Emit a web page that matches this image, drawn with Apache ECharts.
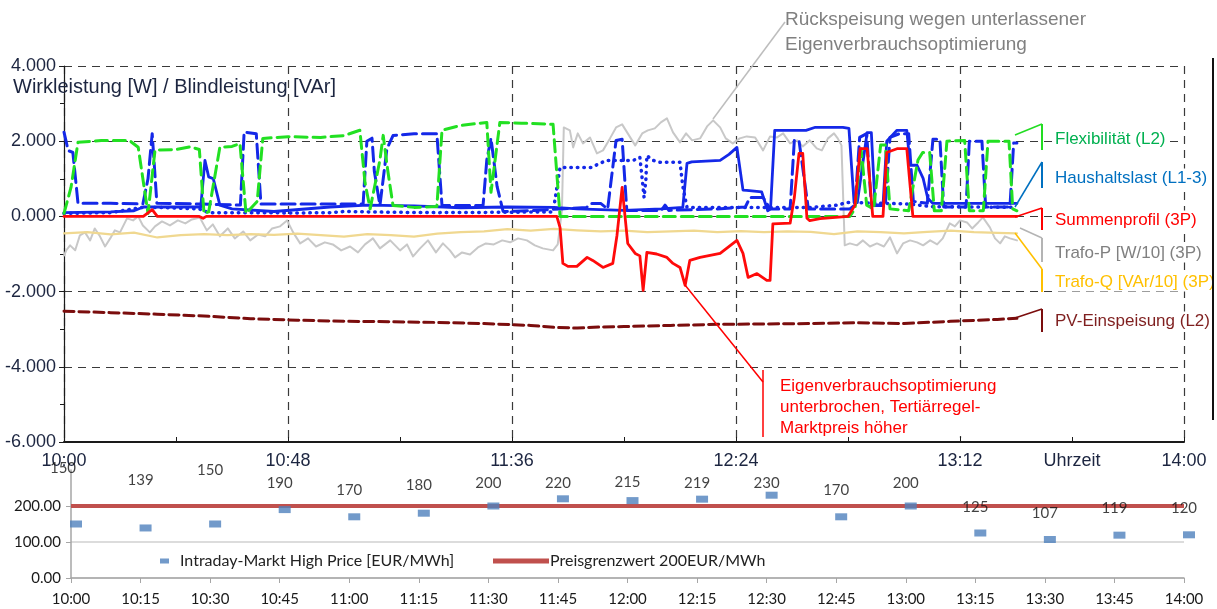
<!DOCTYPE html>
<html>
<head>
<meta charset="utf-8">
<title>Wirkleistung / Blindleistung</title>
<script src="https://cdn.jsdelivr.net/npm/echarts@6/dist/echarts.min.js"></script>
<style>
  html, body { margin: 0; padding: 0; background: #fff; }
  #chart { width: 1217px; height: 609px; }
</style>
</head>
<body>
<div id="chart"></div>
<script>
// upper chart: [minutes after 10:00, W or VAr]
const flexL2 = [[0,80],[1.5,770],[3,1970],[8,2020],[14,2020],[15.9,1840],[18,80],[19.5,1760],[24,1780],[27,1850],[29,1780],[30,80],[31,120],[33.4,1840],[36,1860],[37.7,1940],[39,80],[41.4,400],[42.6,2075],[48,2120],[55,2100],[60,2150],[63.4,2290],[64.5,900],[65.6,200],[67.7,1500],[68.4,2155],[69.4,1200],[70.5,290],[75,240],[79.9,260],[81,2290],[85,2420],[90.6,2500],[91.5,640],[93.4,2500],[98,2480],[104.8,2450],[106.3,0],[168.4,0],[169.5,200],[170.8,1800],[172,300],[173.5,200],[175,1900],[176,1900],[177,200],[181,150],[183,1500],[184,1700],[185.5,1700],[186.5,150],[188,150],[189.2,2000],[193,2020],[194,150],[197,150],[198,2000],[202.5,2000],[203.3,200],[204.2,150]];

const houseL1 = [[0,100],[10,120],[15,150],[17,250],[20,250],[29.3,250],[30.2,1490],[31,1050],[32,1000],[33.4,300],[36,200],[45,130],[57,250],[65,300],[75,280],[85,230],[95,250],[105,240],[110,200],[120,160],[128,200],[132.6,240],[133.5,1410],[134.5,1450],[140.6,1490],[142.5,1650],[144.2,1835],[145.5,700],[146.3,690],[149.5,650],[150.8,150],[151.4,200],[152.3,2290],[159,2290],[161,2370],[166.9,2370],[168.2,2340],[169.3,370],[170,370],[172.1,2230],[173,2230],[173.8,290],[175.5,290],[176.3,2000],[178.5,2290],[180.6,2290],[181.3,1360],[182.8,1360],[184.1,1010],[185.1,480],[186.2,346],[204.2,346]];

const houseL2 = [[0,2240],[0.9,1750],[1.9,1700],[3,350],[10,350],[16.9,330],[18,1000],[18.9,2200],[19.9,350],[29,330],[37.8,300],[38.6,2240],[41.2,2200],[42.2,330],[64.1,330],[64.9,2000],[66,2080],[66.5,1200],[67.7,290],[69.2,1800],[70.5,2150],[75,2200],[79.9,2200],[81,290],[89.8,290],[90.6,1500],[91.5,2080],[92.8,800],[94.1,130],[100,150],[106.3,200],[112,240],[113,346],[115,346],[116.5,200],[118.3,2020],[119.6,2050],[120.6,160],[128,160],[128.8,300],[129.6,160],[140,200],[146,250],[147,505],[149.8,505],[151.3,200],[155.6,200],[156.5,2020],[157.5,2020],[159.5,200],[168.4,200],[169.5,300],[170.5,2100],[172,2200],[173,300],[176,300],[177,2100],[179,2200],[181,2200],[182,400],[185,350],[186.2,2050],[187.7,2050],[188.5,250],[193.3,250],[194,2000],[196.7,2000],[197.5,250],[202.7,250],[203.5,1950],[204.2,1950]];

const houseL3 = [[0,80],[10,100],[14.8,200],[16.9,240],[20,240],[29,200],[31,100],[40,100],[50,90],[57,100],[60,130],[70,110],[80,100],[95,110],[104.8,120],[106.3,1300],[107.5,1300],[113,1300],[114.8,1410],[116.3,1490],[122,1490],[123.4,1570],[123.9,1000],[124.3,500],[124.7,1000],[124.9,1620],[126,1500],[127.7,1440],[132,1440],[132.6,800],[133.5,240],[150,240],[160,240],[166,300],[167.5,370],[175,350],[181,330],[186,260],[204.2,240]];

const sumProfile = [[0,0],[17,0],[18.9,180],[20,0],[29,0],[29.8,-50],[30.5,0],[105.6,0],[106.3,-300],[106.9,-1250],[108,-1330],[109.9,-1330],[112.1,-1090],[113.3,-1170],[115.5,-1357],[117.6,-1250],[118.5,-500],[119.6,770],[120.8,-720],[122.4,-984],[123.4,-1050],[124.1,-1968],[124.9,-958],[127,-1000],[129.2,-1090],[130.5,-1250],[132,-1357],[133.1,-1835],[134.1,-1170],[136.3,-1091],[140.6,-984],[144.2,-638],[145.5,-984],[146.6,-1623],[148.5,-1520],[150.6,-1702],[151.3,-1702],[151.9,-200],[155.6,-180],[156.5,500],[157.5,1676],[158.3,1676],[159.2,-50],[159.8,-110],[162,-60],[168,0],[169.5,300],[170.6,1800],[172.1,1800],[173.3,0],[175.5,0],[176.3,1700],[178.5,1800],[180.6,1800],[181.9,0],[204.2,0]];

const trafoP = [[0,-1040],[0.5,-900],[1.3,-770],[2.4,-900],[3.4,-505],[4.5,-425],[5.6,-640],[6.6,-320],[7.7,-530],[8.8,-800],[9.9,-585],[10.9,-370],[12,-425],[13.5,-53],[14.8,-106],[15.9,0],[16.9,-240],[18.4,-425],[19.5,-265],[21,-133],[22.7,-240],[24.4,-106],[26,-186],[27.4,-80],[29.1,-27],[30.6,-372],[31.9,-213],[33.4,-530],[35.1,-320],[36.6,-585],[38.4,-400],[39.9,-638],[41.6,-480],[43.1,-530],[44.6,-320],[46.3,-265],[47.8,-106],[49.1,-425],[50.6,-718],[52.3,-585],[54,-800],[55.9,-690],[57.6,-745],[59.4,-904],[61.3,-800],[63,-958],[64.5,-745],[66.2,-585],[67.7,-850],[69.9,-638],[72,-904],[73.5,-745],[74.8,-1065],[76.3,-850],[78,-638],[79.7,-958],[81.2,-718],[82.7,-904],[83.8,-1091],[85.3,-958],[87,-1011],[88.7,-825],[90.4,-718],[92.1,-745],[93.9,-638],[95.6,-690],[97.3,-585],[99.2,-638],[100.9,-770],[102.6,-850],[104.8,-904],[105.8,-745],[106.7,160],[107.1,2367],[108.4,2288],[109.1,1835],[110.1,2208],[111.2,1942],[112.7,2100],[114.2,1676],[115.5,1756],[117,2075],[118.3,2367],[119.6,2447],[120.8,2208],[122.4,1889],[123.9,2208],[125.1,2288],[126.6,2341],[127.9,2500],[129.2,2607],[130.5,2234],[132,1968],[133.3,2208],[134.6,2022],[136.3,2075],[137.8,2394],[139.1,2554],[140.6,2367],[141.8,2075],[143.3,1942],[144.8,2075],[146.3,2128],[148.1,2100],[149.8,1756],[151.3,2128],[152.8,2100],[154.1,2208],[155.6,1942],[157.1,2022],[158.3,1862],[159.8,2022],[161.3,1809],[162.4,1756],[163.7,2075],[165,2208],[165.8,2075],[166.6,1889],[167.3,-770],[168.4,-718],[169.9,-770],[171.2,-638],[172.7,-800],[174.2,-718],[175.7,-800],[177,-559],[178.5,-984],[179.8,-718],[181.3,-638],[182.8,-690],[184.1,-770],[185.6,-638],[187.1,-745],[188.3,-585],[189.8,-186],[190.9,-265],[192,-106],[193.5,-160],[194.6,-320],[195.9,-160],[196.9,-27],[198.4,-293],[199.5,-585],[200.6,-718],[201.6,-530],[202.7,-585],[204.2,-638]];

const trafoQ = [[0,-450],[5,-420],[10,-480],[15,-430],[20,-560],[25,-500],[30,-470],[35,-500],[40,-470],[45,-490],[50,-460],[55,-500],[60,-540],[65,-470],[70,-500],[75,-540],[80,-460],[85,-420],[90,-400],[95,-340],[100,-380],[105,-330],[110,-370],[115,-400],[120,-380],[125,-420],[130,-400],[135,-380],[140,-420],[145,-390],[150,-420],[155,-400],[160,-410],[165,-470],[170,-400],[175,-420],[180,-450],[185,-410],[190,-380],[195,-420],[200,-440],[204.2,-450]];

const pvFeedIn = [[0,-2520],[10,-2560],[20,-2600],[30,-2650],[40,-2720],[50,-2760],[60,-2790],[70,-2800],[80,-2820],[90,-2850],[100,-2900],[105,-2950],[110,-2970],[115,-2940],[120,-2930],[130,-2900],[140,-2870],[150,-2860],[160,-2850],[170,-2830],[180,-2850],[190,-2790],[200,-2740],[204.2,-2710]];

// lower chart
const priceSlots = ['10:00','10:15','10:30','10:45','11:00','11:15','11:30','11:45','12:00','12:15','12:30','12:45','13:00','13:15','13:30','13:45','14:00'];
const highPrice = [150,139,150,190,170,180,200,220,215,219,230,170,200,125,107,119,120];
const priceLimit = [200,200,200,200,200,200,200,200,200,200,200,200,200,200,200,200,200];
const labelLift = [56,48,54,26,27,28,23,16,18,16,12,27,23,26,26,27,27];

const FONT = 'Liberation Sans';
const FONT2 = 'Lato';
const NAVY = '#1c2540';

function hhmm(m) {
  const h = 10 + Math.floor(m / 60);
  const mm = Math.round(m % 60);
  return h + ':' + (mm < 10 ? '0' + mm : mm);
}

function lineSeries(name, data, color, width, type, z) {
  return {
    name: name, type: 'line', xAxisIndex: 0, yAxisIndex: 0,
    data: data, symbol: 'none', showSymbol: false, z: z,
    lineStyle: { color: color, width: width, type: type, cap: 'round', join: 'round' },
    animation: false
  };
}

function label(x, y, text, color, size, boxed) {
  const style = { text: text, fill: color, font: size + 'px "' + FONT + '"', textVerticalAlign: 'middle' };
  if (boxed) {
    style.backgroundColor = '#fff';
    style.padding = [1, 3];
  }
  return { type: 'text', x: x, y: y, style: style, z: 50 };
}

// right-hand series notes (pixel layout)
const notes = [
  { text: 'Flexibilität (L2)', color: '#00b050', line: '#22dd22', from: [1015,135], top: 124, bottom: 150, y: 139 },
  { text: 'Haushaltslast (L1-3)', color: '#0070c0', line: '#0070c0', from: [1015,207], top: 162, bottom: 188, y: 178 },
  { text: 'Summenprofil (3P)', color: '#ff0000', line: '#ff0000', from: [1015,217], top: 208, bottom: 230, y: 220 },
  { text: 'Trafo-P [W/10] (3P)', color: '#808080', line: '#b4b4b4', from: [1020,228], top: 238, bottom: 262, y: 253 },
  { text: 'Trafo-Q [VAr/10] (3P)', color: '#ffc000', line: '#ffc000', from: [1015,233], top: 269, bottom: 292, y: 282 },
  { text: 'PV-Einspeisung (L2)', color: '#7f1f1f', line: '#7b0d0d', from: [1015,318], top: 309, bottom: 332, y: 321 }
];

const graphics = [];
notes.forEach(function (n) {
  graphics.push({ type: 'line', shape: { x1: n.from[0], y1: n.from[1], x2: 1042, y2: n.top }, style: { stroke: n.line, lineWidth: 1.5 }, z: 50 });
  graphics.push({ type: 'line', shape: { x1: 1042, y1: n.top, x2: 1042, y2: n.bottom }, style: { stroke: n.line, lineWidth: 2 }, z: 50 });
  graphics.push(label(1052, n.y, n.text, n.color, 17, true));
});

// callouts
graphics.push({ type: 'line', shape: { x1: 713, y1: 119, x2: 785, y2: 22 }, style: { stroke: '#bdbdbd', lineWidth: 1.5 }, z: 50 });
graphics.push(label(785, 20, 'Rückspeisung wegen unterlassener', '#808080', 19, false));
graphics.push(label(785, 45, 'Eigenverbrauchsoptimierung', '#808080', 19, false));
graphics.push({ type: 'rect', shape: { x: 768, y: 370, width: 232, height: 66 }, style: { fill: '#fff' }, z: 40 });
graphics.push({ type: 'line', shape: { x1: 685, y1: 285, x2: 763, y2: 382 }, style: { stroke: '#ff0000', lineWidth: 1.5 }, z: 50 });
graphics.push({ type: 'line', shape: { x1: 763, y1: 370, x2: 763, y2: 437 }, style: { stroke: '#ff0000', lineWidth: 1.5 }, z: 50 });
['Eigenverbrauchsoptimierung', 'unterbrochen, Tertiärregel-', 'Marktpreis höher'].forEach(function (t, i) {
  graphics.push(label(780, 386 + i * 21, t, '#ff0000', 17, false));
});
// axis title
graphics.push({ type: 'text', x: 13, y: 87, style: { text: 'Wirkleistung [W] / Blindleistung [VAr]', fill: NAVY, font: '20px "' + FONT + '"', textVerticalAlign: 'middle' }, z: 60 });
// frame edge on the right
graphics.push({ type: 'line', shape: { x1: 1213, y1: 58, x2: 1213, y2: 420 }, style: { stroke: '#111', lineWidth: 2 }, z: 50 });

const dashGrid = { show: true, lineStyle: { color: '#3a3a3a', type: [8, 6], width: 1.2 } };

const option = {
  backgroundColor: '#fff',
  animation: false,
  textStyle: { fontFamily: FONT },
  grid: [
    { left: 64, top: 66, width: 1120, height: 376 },
    { left: 71, top: 470, width: 1113, height: 108 }
  ],
  legend: [
    {
      left: 155, top: 548, itemWidth: 9, itemHeight: 5, itemGap: 10,
      data: [{ name: 'Intraday-Markt High Price [EUR/MWh]', icon: 'rect' }],
      textStyle: { fontFamily: FONT2, fontSize: 16, color: '#222', padding: [0, 0, 0, 6] }
    },
    {
      left: 488, top: 548, itemWidth: 56, itemHeight: 5,
      data: [{ name: 'Preisgrenzwert 200EUR/MWh', icon: 'rect' }],
      textStyle: { fontFamily: FONT2, fontSize: 16, color: '#222', padding: [0, 0, 0, -4] }
    }
  ],
  xAxis: [
    {
      type: 'value', gridIndex: 0, min: 0, max: 240, interval: 24,
      axisLine: { onZero: false, lineStyle: { color: '#1a1a1a', width: 2 } },
      axisTick: { inside: true, length: 5, lineStyle: { color: '#1a1a1a' } },
      axisLabel: {
        margin: 10, fontSize: 18, color: NAVY, fontFamily: FONT,
        formatter: function (v) { return v === 216 ? 'Uhrzeit' : (v % 48 === 0 ? hhmm(v) : ''); }
      },
      splitLine: { show: false }
    },
    {
      type: 'value', gridIndex: 0, min: 0, max: 240, interval: 48, position: 'top',
      axisLine: { show: false }, axisTick: { show: false }, axisLabel: { show: false },
      splitLine: dashGrid
    },
    {
      type: 'category', gridIndex: 1, data: priceSlots, boundaryGap: false,
      axisLine: { lineStyle: { color: '#a6a6a6', width: 1.5 } },
      axisTick: { show: true, length: 5, lineStyle: { color: '#a6a6a6' } },
      axisLabel: { margin: 14, fontSize: 15, color: '#1a1a1a', fontFamily: FONT2 },
      splitLine: { show: false }
    }
  ],
  yAxis: [
    {
      type: 'value', gridIndex: 0, min: -6000, max: 4000, interval: 2000,
      axisLine: { show: true, lineStyle: { color: '#1a1a1a', width: 1.2 } },
      axisTick: { show: true, length: 5, lineStyle: { color: '#1a1a1a' } },
      minorTick: { show: true, splitNumber: 2, length: 4, lineStyle: { color: '#1a1a1a' } },
      axisLabel: { margin: 8, fontSize: 18, color: NAVY, fontFamily: FONT, formatter: function (v) { return (v / 1000).toFixed(3); } },
      splitLine: dashGrid
    },
    {
      type: 'value', gridIndex: 1, min: 0, max: 300, interval: 100,
      axisLine: { show: true, lineStyle: { color: '#a6a6a6', width: 1.5 } },
      axisTick: { show: true, length: 5, lineStyle: { color: '#a6a6a6' } },
      axisLabel: {
        margin: 10, fontSize: 15, color: '#1a1a1a', fontFamily: FONT2, showMaxLabel: false,
        formatter: function (v) { return v >= 300 ? '' : v.toFixed(2); }
      },
      splitLine: { show: true, lineStyle: { color: ['#d0d0d0', '#d0d0d0', '#d0d0d0', 'rgba(0,0,0,0)'], width: 1.5 } }
    }
  ],
  series: [
    lineSeries('Trafo-P', trafoP, '#c8c8c8', 2, 'solid', 2),
    lineSeries('Trafo-Q', trafoQ, '#f0d890', 2.2, 'solid', 2),
    lineSeries('PV-Einspeisung', pvFeedIn, '#7b0d0d', 3, [10, 5], 3),
    lineSeries('Haushaltslast L3', houseL3, '#1428e8', 3.5, [0.5, 6], 4),
    lineSeries('Haushaltslast L1', houseL1, '#1428e8', 2.8, 'solid', 4),
    lineSeries('Haushaltslast L2', houseL2, '#1428e8', 3, [14, 6], 5),
    lineSeries('Flexibilität', flexL2, '#22e022', 3, [12, 6], 6),
    lineSeries('Summenprofil', sumProfile, '#ff0a0a', 2.8, 'solid', 7),
    {
      name: 'Preisgrenzwert 200EUR/MWh', type: 'line', xAxisIndex: 2, yAxisIndex: 1,
      data: priceLimit, symbol: 'none', showSymbol: false,
      lineStyle: { color: '#c0504d', width: 4 }, itemStyle: { color: '#c0504d' }, z: 3
    },
    {
      name: 'Intraday-Markt High Price [EUR/MWh]', type: 'scatter', xAxisIndex: 2, yAxisIndex: 1,
      symbol: 'rect', symbolSize: [12, 7], symbolOffset: [5, 0],
      itemStyle: { color: '#4f81bd' }, z: 4,
      data: highPrice.map(function (v, i) {
        return {
          value: v,
          label: { show: true, position: 'inside', offset: [i === 0 ? -13 : -5, -labelLift[i]], formatter: '{c}', color: '#111', fontFamily: FONT2, fontSize: 15 }
        };
      })
    }
  ],
  graphic: graphics
};

const chart = echarts.init(document.getElementById('chart'), null, { renderer: 'canvas' });
chart.setOption(option);
</script>
</body>
</html>
